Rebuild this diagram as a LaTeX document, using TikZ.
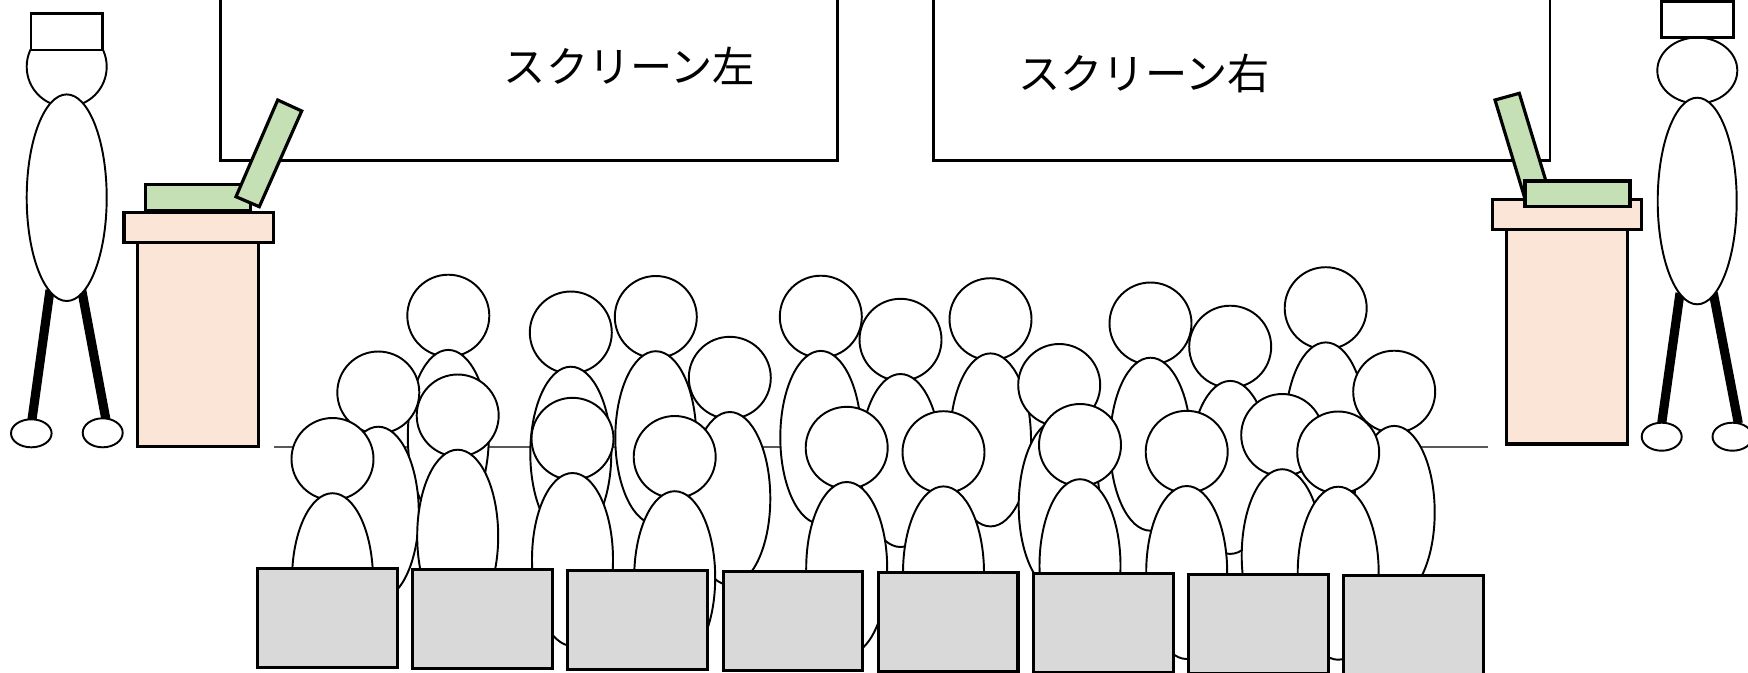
\documentclass[tikz,border=0pt]{standalone}
\usepackage{fontspec}
\newfontfamily\jpfont{Noto Sans CJK JP}

\definecolor{podiumfill}{HTML}{FBE5D6}
\definecolor{lidgreen}{HTML}{C5E0B4}
\definecolor{pcgray}{HTML}{D9D9D9}
\definecolor{wallgray}{HTML}{595959}

% one listener: head, then the body over it
\newcommand{\listener}[2]{%
  \draw[figure] (#1,#2) circle[radius=41];
  \draw[figure] (#1,{#2+120.7}) ellipse[x radius=40.5,y radius=86.5];
}

\begin{document}
\begin{tikzpicture}[x=0.01cm,y=-0.01cm,
    figure/.style={draw,fill=white,line width=0.55pt},
    boxline/.style={draw,line width=0.9pt},
    pcbox/.style={boxline,fill=pcgray},
    podium/.style={boxline,fill=podiumfill},
    lid/.style={boxline,fill=lidgreen},
    hatbox/.style={draw,fill=white,line width=0.7pt},
    leg/.style={line width=2.6pt},
    caption/.style={font=\jpfont\fontsize{12}{14}\selectfont}]
  \useasboundingbox (0,0) rectangle (1748,672);

  % projector screens
  \draw[line width=0.7pt] (220.7,-5) rectangle (837.5,160.7);
  \draw[line width=0.7pt] (933.5,-5) rectangle (1550,160.7);
  \node[caption] (leftscreen) at (629.4,66) {スクリーン左};
  \node[caption] (rightscreen) at (1144,73.5) {スクリーン右};

  % back wall
  \draw[wallgray,line width=0.45pt] (274,446.7) -- (1487.7,446.7);

  % audience, back rows first
  \foreach \x/\y in {1325.7/308.2, 448.3/315.7, 820.8/316.7, 655.8/317,
      990.5/319.2, 1150.5/323.5, 570.8/332.5, 900.5/339.8, 1230.2/346.7,
      729.8/377.8, 1059.2/385, 1394.2/391.7, 378.3/392.5, 457.7/415.5,
      1282.2/435, 572.5/438.8, 1080/445, 846.7/447.8, 1186.7/451.8,
      943.5/452.2, 1338.2/452.5, 674.7/457, 332.5/459}
    {\listener{\x}{\y}}

  % laptops in front of the audience
  \foreach \i in {0,...,7}
    \draw[pcbox] ({257.5+155.2*\i},{568.3+1.05*\i}) rectangle +(139.7,99);

  % left lectern
  \draw[podium] (137.7,242.7) rectangle (258.7,446.7);
  \draw[podium] (124,212.3) rectangle (273.3,242.7);
  \draw[lid] (145.7,184.3) rectangle (250.7,210.7);
  \draw[lid] (236,196.7) -- (259.3,206.7) -- (301.7,111) -- (277.7,100) -- cycle;

  % right lectern
  \draw[lid] (1495,100) -- (1519.3,93.3) -- (1549.8,193.8) -- (1525.5,200.5) -- cycle;
  \draw[podium] (1506.7,229.3) rectangle (1627.3,444);
  \draw[podium] (1492.3,199.3) rectangle (1641.7,229.3);
  \draw[lid] (1525,181) rectangle (1630,206.7);

  % left presenter
  \draw[leg] (50,290) -- (31.7,421.7);
  \draw[leg] (81.7,290) -- (106,420);
  \draw[figure] (31.3,433.3) ellipse[x radius=20.3,y radius=14];
  \draw[figure] (102.7,432.8) ellipse[x radius=20,y radius=14.5];
  \draw[figure] (66.7,66.7) circle[radius=40];
  \draw[figure] (66.7,197.7) ellipse[x radius=40,y radius=103.3];
  \draw[hatbox] (31,13.3) rectangle (102.7,50);

  % right presenter
  \draw[leg] (1680,293) -- (1661.7,423.3);
  \draw[leg] (1713.3,293) -- (1738.3,423.3);
  \draw[figure] (1661.7,436.7) ellipse[x radius=20,y radius=14];
  \draw[figure] (1732.5,436.7) ellipse[x radius=20,y radius=14];
  \draw[figure] (1697.3,70.5) ellipse[x radius=40,y radius=33];
  \draw[figure] (1697.2,201) ellipse[x radius=39.5,y radius=103.3];
  \draw[hatbox] (1661.7,1.5) rectangle (1733.3,37.3);
\end{tikzpicture}
\end{document}
